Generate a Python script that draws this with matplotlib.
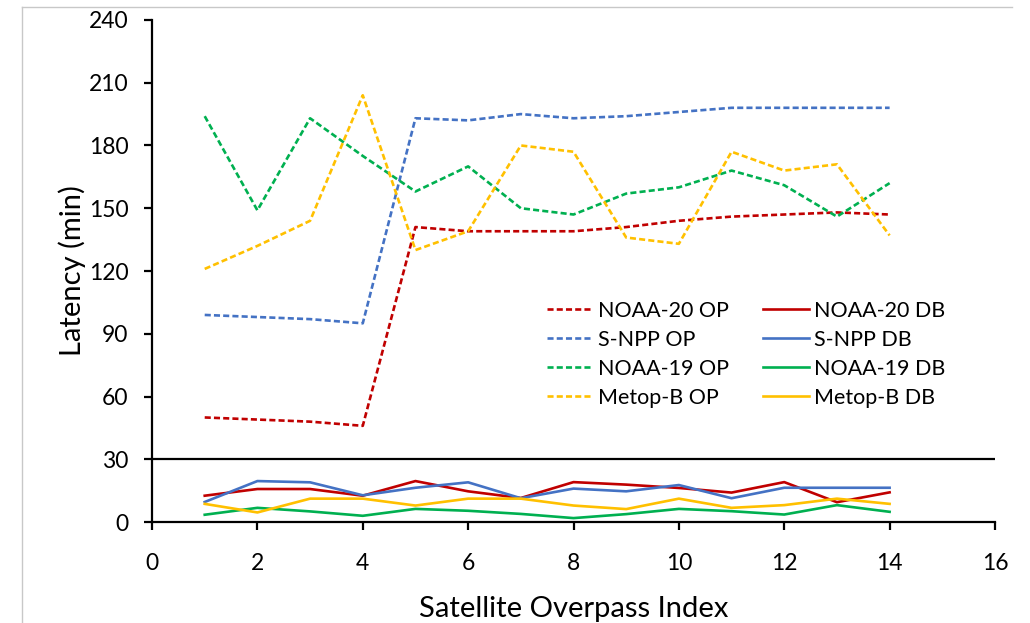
import numpy as np
import matplotlib.pyplot as plt
from matplotlib.lines import Line2D

plt.rcParams["font.family"] = ["Lato", "DejaVu Sans"]

# Satellite overpass index
idx = np.arange(1, 15)

# Operational (OP) latencies, minutes
noaa20_op = [50, 49, 48, 46, 141, 139, 139, 139, 141, 144, 146, 147, 148, 147]
snpp_op = [99, 98, 97, 95, 193, 192, 195, 193, 194, 196, 198, 198, 198, 198]
noaa19_op = [194, 149, 193, 175, 158, 170, 150, 147, 157, 160, 168, 161, 146, 162]
metopb_op = [121, 132, 144, 204, 130, 139, 180, 177, 136, 133, 177, 168, 171, 137]

# Direct broadcast (DB) latencies, minutes
noaa20_db = [12.6, 15.8, 15.8, 12.6, 19.6, 14.7, 11.5, 19.1, 17.9, 16.3, 14.1, 19.1, 9.5, 14.2]
snpp_db = [9.6, 19.6, 19.0, 12.8, 16.4, 19.0, 11.4, 16.0, 14.7, 17.7, 11.4, 16.4, 16.4, 16.4]
noaa19_db = [3.5, 6.8, 5.1, 3.0, 6.3, 5.4, 3.9, 1.9, 3.8, 6.3, 5.2, 3.6, 8.1, 4.9]
metopb_db = [8.7, 4.6, 11.2, 11.2, 7.9, 11.2, 11.2, 7.9, 6.2, 11.2, 6.8, 8.1, 11.2, 8.7]

names = ["NOAA-20", "S-NPP", "NOAA-19", "Metop-B"]
colors = ["#C00000", "#4472C4", "#00B050", "#FFC000"]
op_series = [noaa20_op, snpp_op, noaa19_op, metopb_op]
db_series = [noaa20_db, snpp_db, noaa19_db, metopb_db]

fig = plt.figure(figsize=(10.30, 6.23), dpi=100)
ax = fig.add_axes([0.1476, 0.162, 0.8184, 0.806])

for name, c, vals in zip(names, colors, op_series):
    ax.plot(idx, vals, color=c, lw=1.9, ls=(0, (2.3, 1.2)), label=f"{name} OP")
for name, c, vals in zip(names, colors, db_series):
    ax.plot(idx, vals, color=c, lw=1.9, label=f"{name} DB")

# separator between OP and DB ranges
ax.axhline(30, color="black", lw=1.6)

ax.set_xlim(0, 16)
ax.set_ylim(0, 240)
ax.set_xticks(range(0, 17, 2))
ax.set_yticks(range(0, 241, 30))
ax.spines["top"].set_visible(False)
ax.spines["right"].set_visible(False)
ax.spines["left"].set_linewidth(1.6)
ax.spines["bottom"].set_linewidth(1.6)
ax.tick_params(axis="both", direction="out", length=6, width=1.6, labelsize=16.5)
ax.tick_params(axis="x", pad=16)
ax.tick_params(axis="y", pad=11)

ax.set_xlabel("Satellite Overpass Index", fontsize=21, labelpad=16)
ax.set_ylabel("Latency (min)", fontsize=21, labelpad=2)

ax.legend(ncol=2, loc="center", bbox_to_anchor=(0.705, 0.334), frameon=False,
          fontsize=15.5, handlelength=2.1, handletextpad=0.25,
          columnspacing=1.6, labelspacing=0.42)

# light frame of the original screenshot
fig.add_artist(Line2D([22 / 1030, 1012 / 1030], [1 - 7 / 623, 1 - 7 / 623],
                      transform=fig.transFigure, color="#c8c8c8", lw=1))
fig.add_artist(Line2D([22 / 1030, 22 / 1030], [0, 1 - 7 / 623],
                      transform=fig.transFigure, color="#c8c8c8", lw=1))

plt.savefig("out.png", dpi=100)
